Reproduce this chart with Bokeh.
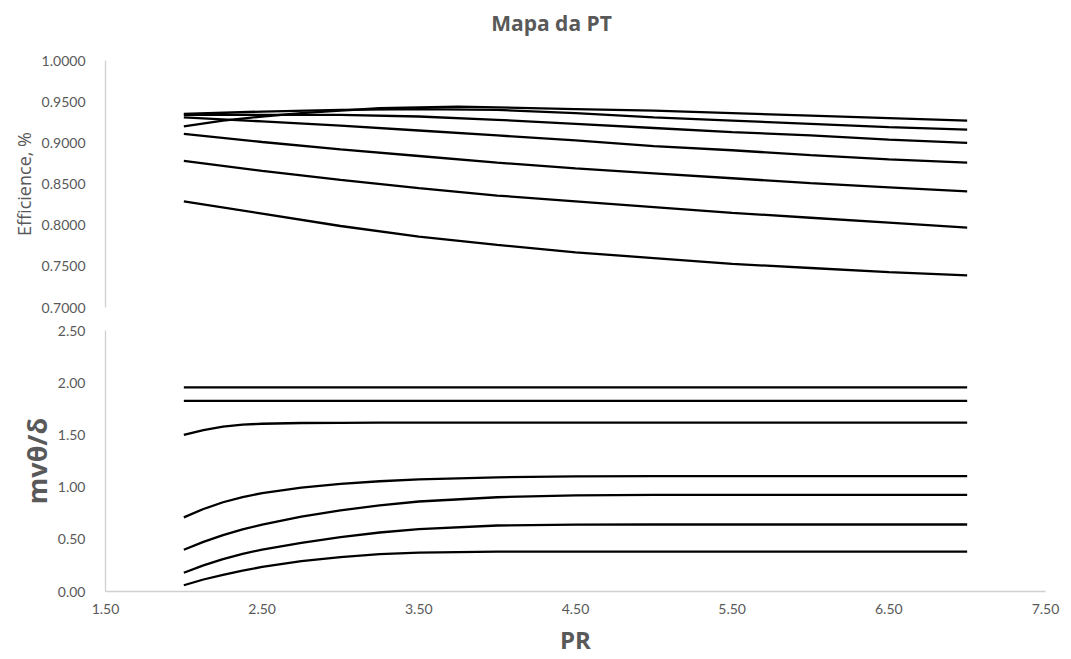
from bokeh.plotting import figure
from bokeh.layouts import column
from bokeh.models import Range1d, FixedTicker, NumeralTickFormatter
from bokeh.core.properties import value
from bokeh.embed import file_html
from bokeh.resources import INLINE

# ---------------- data ----------------
title_text = "Mapa da PT"
x_label = "PR"
y_top_label = "Efficience, %"
y_bot_label = "mvθ/δ"

# efficiency curves (top panel)
eff_x1 = [2.0, 2.25, 2.5, 2.75, 3.0, 3.25, 3.5, 3.75, 4.0, 4.5, 5.0, 5.5, 6.0, 6.5, 7.0]
eff_1 = [0.920, 0.927, 0.932, 0.936, 0.939, 0.942, 0.943, 0.944, 0.943, 0.941, 0.939, 0.936, 0.933, 0.930, 0.927]
eff_x = [2.0, 2.5, 3.0, 3.5, 4.0, 4.5, 5.0, 5.5, 6.0, 6.5, 7.0]
eff_2 = [0.935, 0.938, 0.940, 0.941, 0.940, 0.936, 0.931, 0.927, 0.923, 0.919, 0.916]
eff_3 = [0.934, 0.934, 0.934, 0.932, 0.928, 0.923, 0.918, 0.913, 0.909, 0.904, 0.900]
eff_4 = [0.931, 0.926, 0.921, 0.915, 0.909, 0.903, 0.896, 0.891, 0.885, 0.880, 0.876]
eff_5 = [0.911, 0.901, 0.892, 0.884, 0.876, 0.869, 0.863, 0.857, 0.851, 0.846, 0.841]
eff_6 = [0.878, 0.866, 0.855, 0.845, 0.836, 0.829, 0.822, 0.815, 0.809, 0.803, 0.797]
eff_7 = [0.829, 0.814, 0.799, 0.786, 0.776, 0.767, 0.760, 0.753, 0.748, 0.743, 0.739]

# mass-flow curves (bottom panel)
mf_x = [2.0, 2.125, 2.25, 2.375, 2.5, 2.75, 3.0, 3.25, 3.5, 4.0, 4.5, 5.0, 5.5, 6.0, 6.5, 7.0]
mf_1 = [1.955, 1.955, 1.955, 1.955, 1.955, 1.955, 1.955, 1.955, 1.955, 1.955, 1.955, 1.955, 1.955, 1.955, 1.955, 1.955]
mf_2 = [1.826, 1.826, 1.826, 1.826, 1.826, 1.826, 1.826, 1.826, 1.826, 1.826, 1.826, 1.826, 1.826, 1.826, 1.826, 1.826]
mf_3 = [1.500, 1.545, 1.580, 1.598, 1.607, 1.614, 1.616, 1.617, 1.617, 1.617, 1.617, 1.617, 1.617, 1.617, 1.617, 1.617]
mf_4 = [0.710, 0.790, 0.855, 0.905, 0.942, 0.995, 1.030, 1.056, 1.074, 1.094, 1.103, 1.105, 1.105, 1.105, 1.105, 1.105]
mf_5 = [0.400, 0.475, 0.540, 0.595, 0.640, 0.718, 0.778, 0.825, 0.862, 0.903, 0.921, 0.925, 0.925, 0.925, 0.925, 0.925]
mf_6 = [0.180, 0.250, 0.310, 0.360, 0.402, 0.465, 0.520, 0.565, 0.598, 0.632, 0.641, 0.642, 0.642, 0.642, 0.642, 0.642]
mf_7 = [0.060, 0.115, 0.160, 0.200, 0.235, 0.290, 0.330, 0.358, 0.373, 0.381, 0.382, 0.382, 0.382, 0.382, 0.382, 0.382]

x_ticks = [1.5, 2.5, 3.5, 4.5, 5.5, 6.5, 7.5]
top_ticks = [0.70, 0.75, 0.80, 0.85, 0.90, 0.95, 1.00]
bot_ticks = [0.0, 0.5, 1.0, 1.5, 2.0, 2.5]

GREY = "#595959"
AXIS = "#d0d0d0"
TICK_FONT = "Lato"
LABEL_FONT = "Open Sans"
W = 1071

xr = Range1d(1.5, 7.5)

def style_y(p, ticks, fmt):
    ax = p.yaxis[0]
    ax.ticker = FixedTicker(ticks=ticks)
    ax.formatter = NumeralTickFormatter(format=fmt)
    ax.axis_line_color = AXIS
    ax.axis_line_width = 1.3
    ax.major_tick_line_color = None
    ax.minor_tick_line_color = None
    ax.major_label_text_color = GREY
    ax.major_label_text_font = TICK_FONT
    ax.major_label_text_font_size = "14px"
    ax.major_label_standoff = 14
    ax.axis_label_text_color = GREY
    ax.axis_label_text_font = LABEL_FONT

# ---------- title strip ----------
head = figure(width=W, height=44, x_range=Range1d(0, 1), y_range=Range1d(0, 1),
              output_backend="svg", toolbar_location=None,
              x_axis_location=None, y_axis_location=None, min_border=0)
head.outline_line_color = None
head.grid.visible = False
head.text(x=[0.4745], y=[0.5], text=[title_text], text_align="center",
          text_baseline="middle", text_font=value(LABEL_FONT), text_font_size="21px",
          text_font_style="bold", text_color=GREY)

# ---------- top panel ----------
top = figure(width=W, height=274, x_range=xr, y_range=Range1d(0.70, 1.00),
             output_backend="svg", toolbar_location=None, x_axis_location=None,
             min_border_left=105, min_border_right=26, min_border_top=16, min_border_bottom=11)
top.outline_line_color = None
top.grid.visible = False
style_y(top, top_ticks, "0.0000")
top.yaxis.axis_label = y_top_label
top.yaxis.axis_label_text_font_size = "18px"
top.yaxis.axis_label_text_font_style = "normal"
top.yaxis.axis_label_standoff = 3

top.line(eff_x1, eff_1, line_color="black", line_width=2.3)
for ys in [eff_2, eff_3, eff_4, eff_5, eff_6, eff_7]:
    top.line(eff_x, ys, line_color="black", line_width=2.3)

# ---------- bottom panel ----------
bot = figure(width=W, height=341, x_range=xr, y_range=Range1d(0.0, 2.5),
             output_backend="svg", toolbar_location=None,
             min_border_left=105, min_border_right=26, min_border_top=12, min_border_bottom=68)
bot.outline_line_color = None
bot.grid.visible = False
style_y(bot, bot_ticks, "0.00")
bot.yaxis.axis_label = y_bot_label
bot.yaxis.axis_label_text_font_size = "27px"
bot.yaxis.axis_label_text_font_style = "bold"
bot.yaxis.axis_label_standoff = 0

xa = bot.xaxis[0]
xa.ticker = FixedTicker(ticks=x_ticks)
xa.formatter = NumeralTickFormatter(format="0.00")
xa.axis_line_color = AXIS
xa.axis_line_width = 1.3
xa.major_tick_line_color = None
xa.minor_tick_line_color = None
xa.major_label_text_color = GREY
xa.major_label_text_font = TICK_FONT
xa.major_label_text_font_size = "14px"
xa.major_label_standoff = 6
xa.axis_label = x_label
xa.axis_label_text_color = GREY
xa.axis_label_text_font = LABEL_FONT
xa.axis_label_text_font_size = "24px"
xa.axis_label_text_font_style = "bold"
xa.axis_label_standoff = 6

for ys in [mf_1, mf_2, mf_3, mf_4, mf_5, mf_6, mf_7]:
    bot.line(mf_x, ys, line_color="black", line_width=2.3)

layout = column(head, top, bot, spacing=0)
open("out.html", "w").write(file_html(layout, INLINE))
